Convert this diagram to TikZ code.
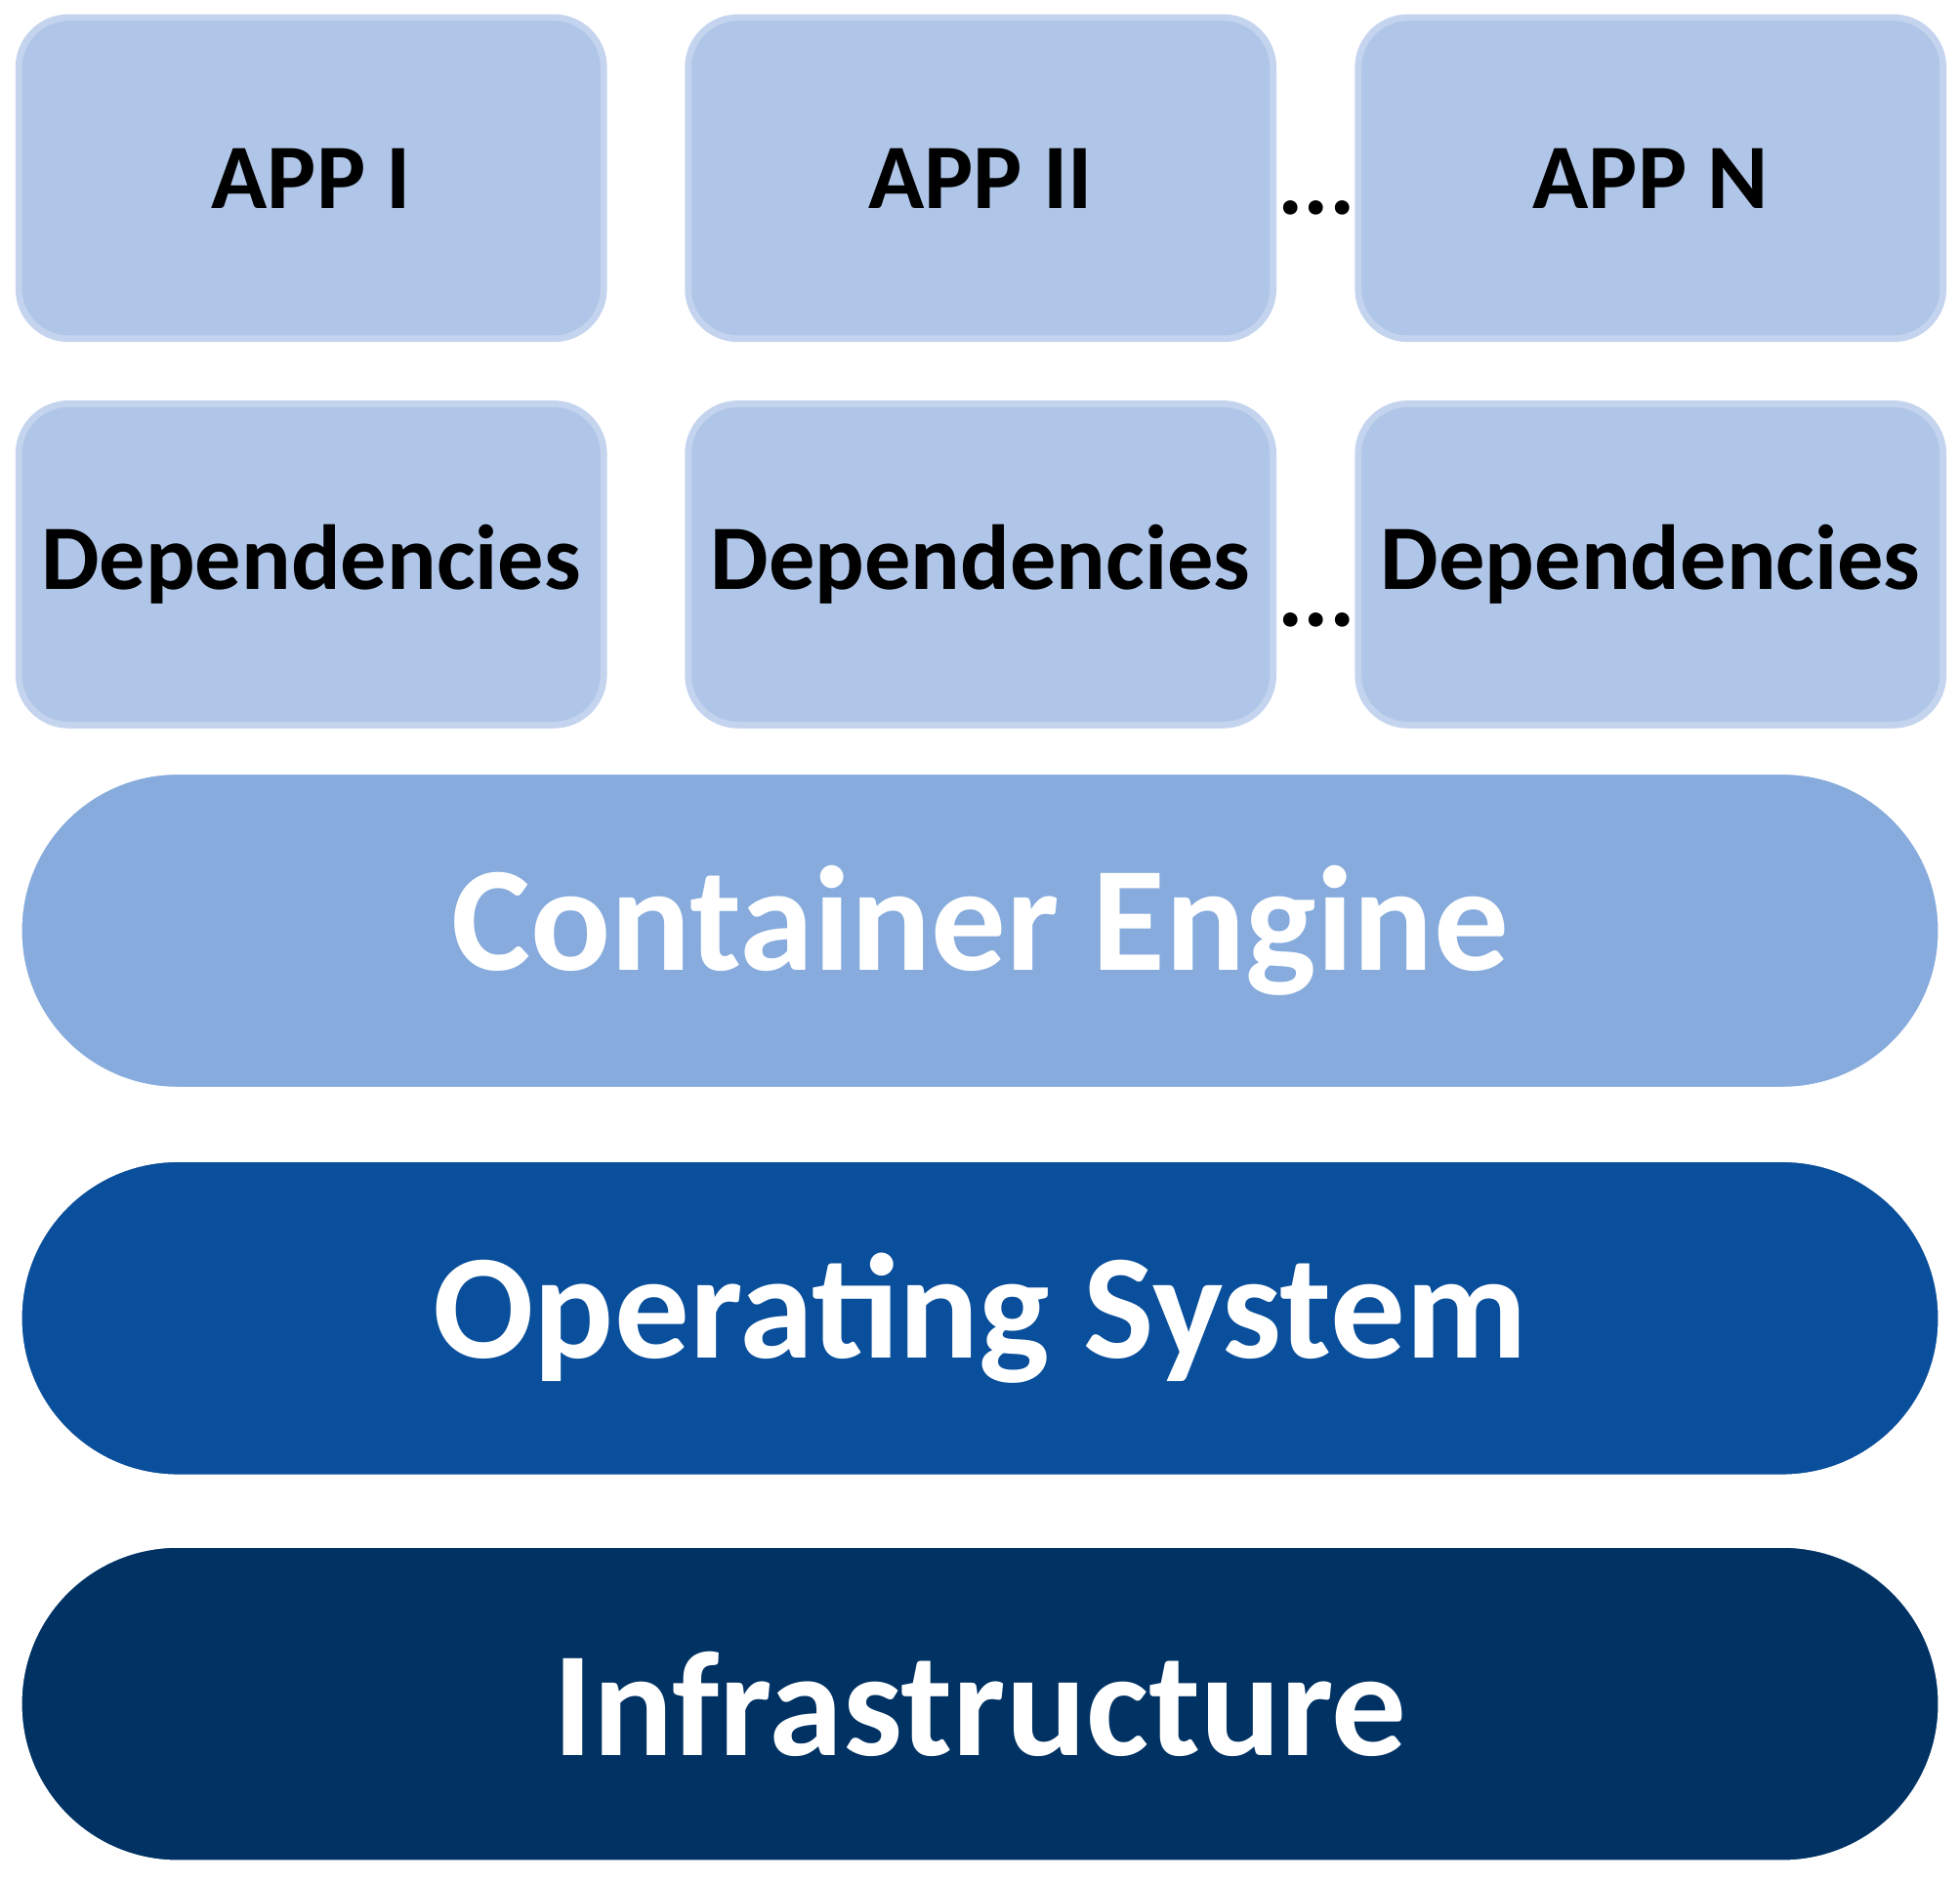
\documentclass[tikz,border=0pt]{standalone}
\usepackage{fontspec}
\setmainfont{Carlito}
\definecolor{appblue}{HTML}{B0C6E8}
\definecolor{appline}{HTML}{C4D4EE}
\definecolor{engblue}{HTML}{86ABDC}
\definecolor{osblue}{HTML}{0A4F9B}
\definecolor{infblue}{HTML}{003264}
\begin{document}
\begin{tikzpicture}
\tikzstyle{every node}=[font=\bfseries]
\tikzstyle{box}=[draw=appline, line width=1.5pt, fill=appblue, rounded corners=0.4cm, minimum width=4.68cm, minimum height=2.57cm, inner sep=0pt, font=\fontsize{21}{25}\selectfont\bfseries]
\tikzstyle{layer}=[draw=white, line width=1.5pt, rounded corners=1.27cm, minimum width=15.38cm, minimum height=2.55cm, inner sep=0pt, text=white, font=\fontsize{34}{40}\selectfont\bfseries]
\tikzstyle{dots}=[font=\fontsize{22}{26}\selectfont\bfseries]

\useasboundingbox (0,0) rectangle (15.68,15.06);

\node[box] (A1) at ( 2.49,13.635) {APP I};
\node[box] (A2) at ( 7.845,13.635) {APP II};
\node[box] (AN) at (13.205,13.635) {APP N};
\node[box] (D1) at ( 2.49,10.545) {Dependencies};
\node[box] (D2) at ( 7.845,10.545) {Dependencies};
\node[box] (DN) at (13.205,10.545) {Dependencies};
\node[dots] (dotsA) at (10.53,13.40) {...};
\node[dots] (dotsD) at (10.53,10.10) {...};

\node[layer, fill=engblue] (engine) at (7.84,7.615) {Container Engine};
\node[layer, fill=osblue] (os) at (7.84,4.515) {Operating System};
\node[layer, fill=infblue] (infra) at (7.84,1.43) {Infrastructure};
\end{tikzpicture}
\end{document}
